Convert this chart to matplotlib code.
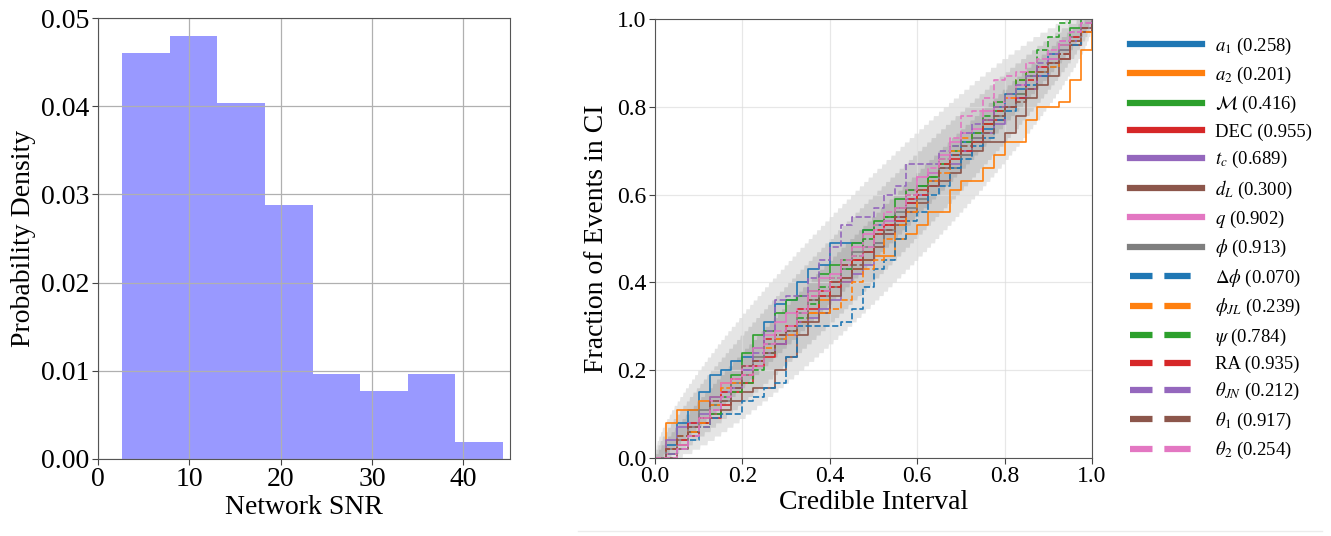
import math
import numpy as np
import matplotlib
matplotlib.use('Agg')
import matplotlib.pyplot as plt
from matplotlib.lines import Line2D

plt.rcParams['font.family'] = ['Liberation Serif', 'DejaVu Serif']
plt.rcParams['mathtext.fontset'] = 'stix'

# histogram of network SNR (100 injections)
snr_bin_edges = [2.66, 7.87, 13.08, 18.29, 23.50, 28.71, 33.92, 39.13, 44.34]
snr_counts = [24, 25, 21, 15, 5, 4, 5, 1]

# pp-plot: fraction of events found in each credible interval
n_events = 100
ci_grid = np.linspace(0, 1, 41)

pp_labels = [r'$a_1$ (0.258)', r'$a_2$ (0.201)', r'$\mathcal{M}$ (0.416)', 'DEC (0.955)',
             r'$t_c$ (0.689)', r'$d_L$ (0.300)', r'$q$ (0.902)', r'$\phi$ (0.913)',
             r'$\Delta\phi$ (0.070)', r'$\phi_{JL}$ (0.239)', r'$\psi$ (0.784)', 'RA (0.935)',
             r'$\theta_{JN}$ (0.212)', r'$\theta_1$ (0.917)', r'$\theta_2$ (0.254)']

pp_a1 = [0.00, 0.03, 0.08, 0.11, 0.15, 0.19, 0.20, 0.22, 0.23, 0.25, 0.31, 0.35, 0.36, 0.40,
         0.43, 0.44, 0.49, 0.49, 0.49, 0.52, 0.53, 0.54, 0.57, 0.58, 0.62, 0.65, 0.66, 0.69,
         0.72, 0.74, 0.75, 0.80, 0.83, 0.84, 0.87, 0.89, 0.92, 0.94, 0.95, 0.98, 1.00]
pp_a2 = [0.00, 0.08, 0.11, 0.11, 0.13, 0.14, 0.17, 0.18, 0.21, 0.22, 0.24, 0.26, 0.30, 0.31,
         0.33, 0.36, 0.39, 0.40, 0.43, 0.45, 0.46, 0.46, 0.50, 0.51, 0.53, 0.56, 0.56, 0.61,
         0.63, 0.63, 0.66, 0.69, 0.72, 0.72, 0.77, 0.80, 0.80, 0.81, 0.86, 0.93, 1.00]
pp_mc = [0.00, 0.01, 0.03, 0.06, 0.08, 0.12, 0.14, 0.19, 0.24, 0.28, 0.29, 0.33, 0.36, 0.37,
         0.38, 0.42, 0.44, 0.45, 0.49, 0.52, 0.54, 0.55, 0.59, 0.61, 0.62, 0.64, 0.67, 0.70,
         0.70, 0.72, 0.76, 0.79, 0.80, 0.83, 0.87, 0.89, 0.91, 0.94, 0.98, 1.00, 1.00]
pp_dec = [0.00, 0.01, 0.03, 0.05, 0.08, 0.09, 0.12, 0.15, 0.17, 0.21, 0.23, 0.26, 0.30, 0.31,
          0.34, 0.38, 0.40, 0.41, 0.45, 0.47, 0.51, 0.53, 0.54, 0.58, 0.61, 0.63, 0.66, 0.68,
          0.70, 0.72, 0.76, 0.77, 0.80, 0.82, 0.84, 0.87, 0.90, 0.91, 0.94, 0.97, 1.00]
pp_tc = [0.00, 0.04, 0.07, 0.08, 0.10, 0.14, 0.15, 0.16, 0.20, 0.22, 0.24, 0.26, 0.28, 0.31,
         0.32, 0.34, 0.36, 0.40, 0.42, 0.44, 0.49, 0.51, 0.55, 0.59, 0.60, 0.62, 0.66, 0.67,
         0.70, 0.73, 0.74, 0.76, 0.80, 0.82, 0.84, 0.87, 0.91, 0.93, 0.95, 0.98, 1.00]
pp_dl = [0.00, 0.00, 0.02, 0.06, 0.09, 0.10, 0.11, 0.13, 0.15, 0.16, 0.16, 0.20, 0.23, 0.28,
         0.31, 0.33, 0.37, 0.41, 0.43, 0.45, 0.48, 0.51, 0.53, 0.56, 0.58, 0.62, 0.63, 0.65,
         0.69, 0.70, 0.72, 0.72, 0.74, 0.78, 0.82, 0.85, 0.87, 0.91, 0.94, 0.97, 1.00]
pp_q = [0.00, 0.01, 0.03, 0.07, 0.09, 0.13, 0.17, 0.18, 0.21, 0.25, 0.28, 0.31, 0.33, 0.34,
        0.38, 0.41, 0.42, 0.44, 0.48, 0.51, 0.52, 0.54, 0.57, 0.61, 0.64, 0.65, 0.69, 0.72,
        0.74, 0.75, 0.79, 0.81, 0.82, 0.85, 0.88, 0.89, 0.91, 0.94, 0.96, 0.98, 1.00]
pp_phi = [0.00, 0.02, 0.04, 0.07, 0.11, 0.12, 0.13, 0.17, 0.19, 0.23, 0.26, 0.27, 0.29, 0.33,
          0.36, 0.37, 0.39, 0.43, 0.47, 0.48, 0.49, 0.52, 0.56, 0.57, 0.59, 0.63, 0.66, 0.66,
          0.69, 0.73, 0.77, 0.78, 0.80, 0.83, 0.87, 0.88, 0.90, 0.93, 0.96, 0.98, 1.00]
pp_dphi = [0.00, 0.01, 0.02, 0.04, 0.07, 0.09, 0.10, 0.10, 0.13, 0.14, 0.16, 0.17, 0.23, 0.30,
           0.30, 0.30, 0.30, 0.31, 0.34, 0.39, 0.43, 0.45, 0.50, 0.54, 0.56, 0.60, 0.62, 0.66,
           0.68, 0.71, 0.73, 0.77, 0.79, 0.82, 0.85, 0.87, 0.89, 0.92, 0.94, 0.98, 1.00]
pp_phijl = [0.00, 0.02, 0.05, 0.06, 0.08, 0.12, 0.16, 0.17, 0.19, 0.22, 0.25, 0.27, 0.28, 0.31,
            0.33, 0.33, 0.34, 0.36, 0.40, 0.43, 0.45, 0.50, 0.53, 0.56, 0.61, 0.63, 0.65, 0.70,
            0.73, 0.74, 0.77, 0.80, 0.82, 0.86, 0.88, 0.88, 0.89, 0.92, 0.95, 0.97, 1.00]
pp_psi = [0.00, 0.01, 0.02, 0.05, 0.07, 0.10, 0.14, 0.15, 0.17, 0.20, 0.24, 0.28, 0.30, 0.32,
          0.35, 0.39, 0.41, 0.43, 0.46, 0.50, 0.53, 0.55, 0.57, 0.61, 0.62, 0.64, 0.68, 0.71,
          0.72, 0.74, 0.78, 0.81, 0.83, 0.86, 0.88, 0.93, 0.96, 0.99, 1.00, 1.00, 1.00]
pp_ra = [0.00, 0.02, 0.04, 0.08, 0.09, 0.11, 0.15, 0.18, 0.19, 0.22, 0.27, 0.28, 0.30, 0.34,
         0.37, 0.37, 0.39, 0.44, 0.45, 0.47, 0.52, 0.53, 0.55, 0.59, 0.60, 0.62, 0.67, 0.69,
         0.70, 0.72, 0.77, 0.79, 0.80, 0.82, 0.86, 0.89, 0.90, 0.92, 0.96, 0.98, 1.00]
pp_tjn = [0.00, 0.01, 0.02, 0.05, 0.07, 0.11, 0.14, 0.16, 0.20, 0.24, 0.29, 0.36, 0.37, 0.37,
          0.41, 0.45, 0.48, 0.53, 0.55, 0.55, 0.57, 0.60, 0.62, 0.67, 0.67, 0.67, 0.70, 0.71,
          0.74, 0.76, 0.77, 0.80, 0.83, 0.85, 0.87, 0.90, 0.92, 0.95, 0.97, 0.99, 1.00]
pp_t1 = [0.00, 0.02, 0.05, 0.07, 0.09, 0.13, 0.13, 0.16, 0.21, 0.22, 0.24, 0.28, 0.29, 0.31,
         0.36, 0.38, 0.40, 0.44, 0.44, 0.47, 0.51, 0.52, 0.55, 0.60, 0.61, 0.62, 0.66, 0.69,
         0.71, 0.72, 0.74, 0.78, 0.80, 0.81, 0.84, 0.88, 0.90, 0.92, 0.95, 0.98, 1.00]
pp_t2 = [0.00, 0.00, 0.02, 0.05, 0.09, 0.11, 0.14, 0.18, 0.19, 0.21, 0.26, 0.29, 0.30, 0.33,
         0.37, 0.38, 0.41, 0.45, 0.46, 0.48, 0.53, 0.56, 0.57, 0.60, 0.64, 0.66, 0.68, 0.73,
         0.78, 0.79, 0.82, 0.86, 0.87, 0.88, 0.90, 0.91, 0.93, 0.95, 0.97, 0.99, 1.00]

pp_curves = [pp_a1, pp_a2, pp_mc, pp_dec, pp_tc, pp_dl, pp_q, pp_phi,
             pp_dphi, pp_phijl, pp_psi, pp_ra, pp_tjn, pp_t1, pp_t2]
confidence_levels = [0.68, 0.95, 0.997]


def binom_ppf(prob, n, p):
    # smallest k with CDF(k) >= prob, for each p
    k = np.arange(n + 1)
    coef = np.array([math.comb(n, int(i)) for i in k], dtype=float)
    p = np.asarray(p)[:, None]
    pmf = coef * p ** k * (1 - p) ** (n - k)
    cdf = np.cumsum(pmf, axis=1)
    return np.argmax(cdf >= prob - 1e-12, axis=1).astype(float)


fig = plt.figure(figsize=(13.31, 5.36), dpi=100)

# left: SNR histogram
ax1 = fig.add_axes([98 / 1331, 77 / 536, 412 / 1331, 441 / 536])
ax1.hist(snr_bin_edges[:-1], bins=snr_bin_edges, weights=snr_counts, density=True,
         color='blue', alpha=0.4, zorder=1)
ax1.grid(True, color='#b0b0b0', lw=0.9, zorder=0)
ax1.set_xlim(0, 45.1)
ax1.set_ylim(0, 0.05)
ax1.set_xticks([0, 10, 20, 30, 40])
ax1.set_yticks([0, 0.01, 0.02, 0.03, 0.04, 0.05])
ax1.set_yticklabels(['0.00', '0.01', '0.02', '0.03', '0.04', '0.05'])
ax1.set_xlabel('Network SNR', fontsize=20, labelpad=2)
ax1.set_ylabel('Probability Density', fontsize=20, labelpad=4)
ax1.tick_params(labelsize=20, length=4, color='#444444', pad=2)
for s in ax1.spines.values():
    s.set_color('#555555')

# right: pp-plot
ax2 = fig.add_axes([655 / 1331, 78 / 536, 437 / 1331, 439 / 536])
x_values = np.linspace(0, 1, 1001)
for ci in confidence_levels:
    edge = (1. - ci) / 2.
    lower = binom_ppf(1 - edge, n_events, x_values) / n_events
    upper = binom_ppf(edge, n_events, x_values) / n_events
    lower[0] = 0
    upper[0] = 0
    ax2.fill_between(x_values, lower, upper, alpha=0.1, color='k', lw=0)

colors = plt.rcParams['axes.prop_cycle'].by_key()['color']
handles = []
for i, (curve, label) in enumerate(zip(pp_curves, pp_labels)):
    c = colors[i % 8]
    if i < 8:
        ax2.plot(ci_grid, curve, drawstyle='steps-post', color=c, ls='-', lw=1.2)
        handles.append(Line2D([], [], color=c, ls='-', lw=4.5, label=label))
    else:
        ax2.plot(ci_grid, curve, drawstyle='steps-post', color=c, ls='--', lw=1.2)
        handles.append(Line2D([], [], color=c, ls=(0.6, (4.2, 1.9)), lw=4.5, label=label))

ax2.grid(True, color='#dddddd', lw=0.9, alpha=0.7)
ax2.set_xlim(0, 1)
ax2.set_ylim(0, 1)
ax2.set_xticks([0, 0.2, 0.4, 0.6, 0.8, 1.0])
ax2.set_yticks([0, 0.2, 0.4, 0.6, 0.8, 1.0])
ax2.set_xlabel('Credible Interval', fontsize=20, labelpad=2)
ax2.set_ylabel('Fraction of Events in CI', fontsize=20, labelpad=6)
ax2.tick_params(labelsize=17, length=4, color='#444444', pad=2)
for s in ax2.spines.values():
    s.set_color('#555555')

fig.legend(handles=handles, loc='upper left', bbox_to_anchor=(1122 / 1331, 1 - 28 / 536),
           frameon=False, fontsize=13.5, handlelength=3.85, handletextpad=0.7,
           labelspacing=0.44, borderaxespad=0)

fig.add_artist(Line2D([578 / 1331, 1322 / 1331], [5 / 536, 5 / 536], color='#ececec', lw=1))

fig.savefig('out.png', dpi=100)
